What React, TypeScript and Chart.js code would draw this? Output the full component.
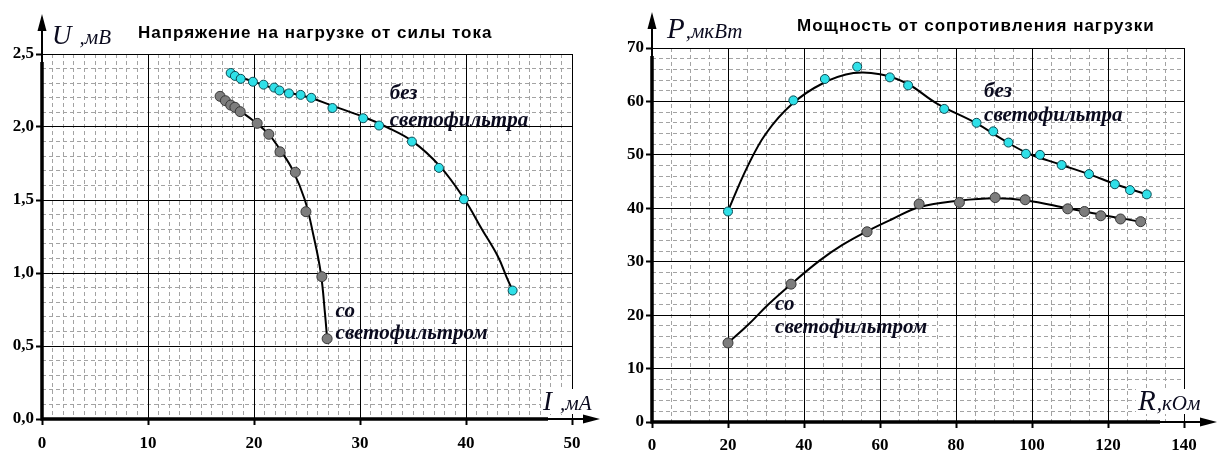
import { useEffect, useRef } from 'react'
import { Chart, registerables } from 'chart.js'
import type { Plugin } from 'chart.js'

Chart.register(...registerables)

const SERIF = '"Liberation Serif", "Times New Roman", serif'
const SANS = '"Liberation Sans", Arial, sans-serif'
const INK = '#0a0a1e'

// --- Напряжение на нагрузке от силы тока (I, мА -> U, мВ)
const I_NO_FILTER = [17.8, 18.2, 18.75, 19.9, 20.9, 21.9, 22.4, 23.3, 24.4, 25.4, 27.4, 30.3, 31.8, 34.9, 37.45, 39.8, 44.4]
const U_NO_FILTER = [2.37, 2.35, 2.33, 2.31, 2.29, 2.27, 2.25, 2.23, 2.22, 2.2, 2.13, 2.06, 2.01, 1.9, 1.72, 1.505, 0.88]
const I_FILTER = [16.8, 17.3, 17.8, 18.2, 18.7, 20.3, 21.4, 22.45, 23.9, 24.9, 26.4, 26.9]
const U_FILTER = [2.21, 2.18, 2.15, 2.135, 2.105, 2.025, 1.95, 1.83, 1.69, 1.42, 0.975, 0.55]
// trend lines
const I_NO_FILTER_FIT = [17.7, 20, 22.5, 25.3, 27.4, 30.3, 32.5, 35, 37.55, 39.85, 41.5, 43, 43.9, 44.4]
const U_NO_FILTER_FIT = [2.365, 2.31, 2.25, 2.2, 2.145, 2.07, 2.0, 1.9, 1.73, 1.505, 1.3, 1.115, 0.96, 0.88]
const I_FILTER_FIT = [16.8, 18.5, 20, 21.4, 22.5, 23.65, 24.8, 25.6, 26.3, 26.7, 26.9]
const U_FILTER_FIT = [2.21, 2.12, 2.04, 1.95, 1.84, 1.705, 1.5, 1.26, 1.0, 0.72, 0.55]

// --- Мощность от сопротивления нагрузки (R, кОм -> P, мкВт)
const R_NO_FILTER = [20, 37.2, 45.5, 54, 62.6, 67.4, 76.9, 85.4, 89.8, 93.8, 98.4, 102.1, 107.8, 115, 121.8, 125.8, 130.2]
const P_NO_FILTER = [39.4, 60.2, 64.2, 66.5, 64.5, 63.0, 58.6, 56.0, 54.4, 52.3, 50.2, 50.0, 48.1, 46.4, 44.5, 43.4, 42.6]
const R_FILTER = [20, 36.6, 56.6, 70.3, 80.9, 90.3, 98.2, 109.4, 113.8, 118.1, 123.3, 128.6]
const P_FILTER = [14.8, 25.8, 35.6, 40.8, 41.1, 42.0, 41.6, 39.9, 39.4, 38.6, 38.0, 37.5]
const R_NO_FILTER_FIT = [20, 25, 30, 37, 45, 53, 60, 67, 75, 85.4, 92, 98.6, 107.4, 115.3, 122, 130.2]
const P_NO_FILTER_FIT = [39.5, 47.6, 54.0, 59.6, 63.4, 65.3, 65.1, 63.4, 59.6, 55.9, 53.0, 50.4, 48.2, 46.3, 44.5, 42.6]
const R_FILTER_FIT = [20, 25.3, 30.6, 36.6, 44.1, 50, 56.6, 63, 70.3, 80.9, 90.3, 98.2, 109.4, 118, 128.6]
const P_FILTER_FIT = [14.8, 18.2, 22.0, 25.8, 30.2, 33.1, 35.7, 37.9, 40.2, 41.45, 41.9, 41.5, 40.0, 38.8, 37.5]

// curve captions (anchored in data units)
const U_NOTE_TEXT = ['без', 'светофильтра', 'со', 'светофильтром']
const U_NOTE_X = [32.8, 32.8, 27.7, 27.7]
const U_NOTE_Y = [2.19, 2.01, 0.7, 0.545]
const P_NOTE_TEXT = ['без', 'светофильтра', 'со', 'светофильтром']
const P_NOTE_X = [87.4, 87.4, 32.4, 32.4]
const P_NOTE_Y = [60.9, 56.3, 21.0, 16.6]

type Pt = { x: number; y: number }
const zip = (xs: number[], ys: number[]): Pt[] => xs.map((x, i) => ({ x, y: ys[i] }))

type PanelCfg = {
  title: string
  titleX: number
  titleY: number
  yName: string
  yUnit: string
  yNameX: number
  yNameY: number
  xName: string
  xUnit: string
  xNameX: number
  xNameY: number
  nameGap: number
  nameSize: number
  xMax: number
  xStep: number
  xMinor: number
  yMax: number
  yStep: number
  yMinor: number
  yFormat: (v: number) => string
  cyan: Pt[]
  cyanFit: Pt[]
  grey: Pt[]
  greyFit: Pt[]
  notesText: string[]
  notesX: number[]
  notesY: number[]
  pad: { left: number; right: number; top: number; bottom: number }
  yWidth: number
  xLabelPad: number
  arrowUp: number
  arrowRight: number
}

const arrowHead = (ctx: CanvasRenderingContext2D, x: number, y: number, dir: 'up' | 'right') => {
  ctx.beginPath()
  if (dir === 'up') {
    ctx.moveTo(x, y)
    ctx.lineTo(x - 4.5, y + 17)
    ctx.lineTo(x + 4.5, y + 17)
  } else {
    ctx.moveTo(x, y)
    ctx.lineTo(x - 17, y - 4.5)
    ctx.lineTo(x - 17, y + 4.5)
  }
  ctx.closePath()
  ctx.fill()
}

const decor: Plugin<'scatter'> = {
  id: 'decor',
  afterDraw(chart, _args, opts: any) {
    const cfg = opts.cfg as PanelCfg
    const ctx = chart.ctx as any
    const { left, right, top, bottom } = chart.chartArea
    const xs = chart.scales.x
    const ys = chart.scales.y
    ctx.save()

    // captions next to curves
    ctx.fillStyle = INK
    ctx.font = `italic bold 21px ${SERIF}`
    ctx.textAlign = 'left'
    ctx.textBaseline = 'alphabetic'
    cfg.notesText.forEach((t, i) => {
      ctx.fillText(t, xs.getPixelForValue(cfg.notesX[i]), ys.getPixelForValue(cfg.notesY[i]))
    })

    // x axis name with white backing
    ctx.font = `italic ${cfg.nameSize}px ${SERIF}`
    const xw = ctx.measureText(cfg.xName).width
    ctx.font = `italic 21px ${SERIF}`
    const uw = ctx.measureText(cfg.xUnit).width
    ctx.fillStyle = '#fff'
    ctx.fillRect(cfg.xNameX - 2, cfg.xNameY - 21, xw + cfg.nameGap + uw + 4, 25)
    ctx.fillStyle = INK
    ctx.font = `italic ${cfg.nameSize}px ${SERIF}`
    ctx.fillText(cfg.xName, cfg.xNameX, cfg.xNameY)
    ctx.font = `italic 21px ${SERIF}`
    ctx.fillText(cfg.xUnit, cfg.xNameX + xw + cfg.nameGap, cfg.xNameY)

    // y axis name
    ctx.font = `italic ${cfg.nameSize}px ${SERIF}`
    const yw = ctx.measureText(cfg.yName).width
    ctx.fillText(cfg.yName, cfg.yNameX, cfg.yNameY)
    ctx.font = `italic 21px ${SERIF}`
    ctx.fillText(cfg.yUnit, cfg.yNameX + yw + cfg.nameGap, cfg.yNameY)

    // title
    ctx.fillStyle = '#000'
    ctx.font = `bold 17px ${SANS}`
    ctx.letterSpacing = '1px'
    ctx.fillText(cfg.title, cfg.titleX, cfg.titleY)
    ctx.letterSpacing = '0px'

    // thick axes with arrows
    ctx.strokeStyle = '#000'
    ctx.fillStyle = '#000'
    ctx.lineWidth = 3.5
    ctx.beginPath()
    ctx.moveTo(left, bottom + 1.5)
    ctx.lineTo(left, top + 8)
    ctx.moveTo(left - 1.5, bottom)
    ctx.lineTo(right - 24, bottom)
    ctx.stroke()
    ctx.lineWidth = 2
    ctx.beginPath()
    ctx.moveTo(left, top + 8)
    ctx.lineTo(left, top - cfg.arrowUp + 12)
    ctx.moveTo(right - 24, bottom)
    ctx.lineTo(right + cfg.arrowRight - 12, bottom)
    ctx.stroke()
    arrowHead(ctx, left, top - cfg.arrowUp, 'up')
    arrowHead(ctx, right + cfg.arrowRight, bottom, 'right')
    ctx.restore()
  },
}

const noPad = (s: any) => {
  s.paddingLeft = 0
  s.paddingRight = 0
  s.paddingTop = 0
  s.paddingBottom = 0
}

function Panel({ cfg, left, width }: { cfg: PanelCfg; left: number; width: number }) {
  const canvasRef = useRef<HTMLCanvasElement>(null)
  const chartRef = useRef<Chart<'scatter'> | null>(null)

  useEffect(() => {
    if (!canvasRef.current) return
    if (chartRef.current) chartRef.current.destroy()

    const tickFont = { family: SERIF, weight: 'bold' as const, size: 17 }

    chartRef.current = new Chart(canvasRef.current, {
      type: 'scatter',
      data: {
        datasets: [
          {
            data: cfg.cyanFit,
            showLine: true,
            tension: 0.4,
            borderColor: '#000',
            borderWidth: 2,
            pointRadius: 0,
            order: 2,
          },
          {
            data: cfg.greyFit,
            showLine: true,
            tension: 0.4,
            borderColor: '#000',
            borderWidth: 2,
            pointRadius: 0,
            order: 2,
          },
          {
            data: cfg.cyan,
            pointRadius: 4.5,
            pointBackgroundColor: '#2fe0e8',
            pointBorderColor: '#0d4a52',
            pointBorderWidth: 1,
            order: 1,
          },
          {
            data: cfg.grey,
            pointRadius: 5,
            pointBackgroundColor: '#7d7d7d',
            pointBorderColor: '#383838',
            pointBorderWidth: 1,
            order: 1,
          },
        ],
      },
      options: {
        responsive: true,
        maintainAspectRatio: false,
        animation: false,
        events: [],
        layout: { padding: cfg.pad },
        plugins: {
          legend: { display: false },
          tooltip: { enabled: false },
          decor: { cfg },
        } as any,
        scales: {
          xMinor: {
            type: 'linear',
            position: 'bottom',
            min: 0,
            max: cfg.xMax,
            z: -1,
            ticks: { display: false, stepSize: cfg.xMinor },
            grid: { color: '#a3a3a3', lineWidth: 1, drawTicks: false },
            border: { display: false, dash: [4, 3] },
            afterFit: (s: any) => { s.height = 0; noPad(s) },
          },
          yMinor: {
            type: 'linear',
            position: 'left',
            min: 0,
            max: cfg.yMax,
            z: -1,
            ticks: { display: false, stepSize: cfg.yMinor },
            grid: { color: '#a3a3a3', lineWidth: 1, drawTicks: false },
            border: { display: false, dash: [4, 3] },
            afterFit: (s: any) => { s.width = 0; noPad(s) },
          },
          x: {
            type: 'linear',
            position: 'bottom',
            min: 0,
            max: cfg.xMax,
            ticks: {
              stepSize: cfg.xStep,
              color: '#000',
              font: tickFont,
              padding: cfg.xLabelPad,
              maxRotation: 0,
              autoSkip: false,
              callback: (v) => String(v),
            },
            grid: { color: '#000', lineWidth: 1, tickLength: 6, tickColor: '#000', tickWidth: 2 },
            border: { display: false },
            afterFit: (s: any) => { s.height = 30; noPad(s) },
          },
          y: {
            type: 'linear',
            position: 'left',
            min: 0,
            max: cfg.yMax,
            ticks: {
              stepSize: cfg.yStep,
              color: '#000',
              font: tickFont,
              padding: 2,
              autoSkip: false,
              callback: (v) => cfg.yFormat(Number(v)),
            },
            grid: { color: '#000', lineWidth: 1, tickLength: 6, tickColor: '#000', tickWidth: 2 },
            border: { display: false },
            afterFit: (s: any) => { s.width = cfg.yWidth; noPad(s) },
          },
        },
      },
      plugins: [decor],
    })

    return () => { chartRef.current?.destroy() }
  }, [cfg])

  return (
    <div style={{ position: 'absolute', left, top: 0, width, height: 459 }}>
      <canvas ref={canvasRef} />
    </div>
  )
}

const voltageCfg: PanelCfg = {
  title: 'Напряжение на нагрузке от силы тока',
  titleX: 138,
  titleY: 38,
  yName: 'U',
  yUnit: ',мВ',
  yNameX: 52,
  yNameY: 44,
  xName: 'I',
  xUnit: ',мА',
  xNameX: 543,
  xNameY: 410,
  nameGap: 8,
  nameSize: 27,
  xMax: 50,
  xStep: 10,
  xMinor: 1,
  yMax: 2.5,
  yStep: 0.5,
  yMinor: 0.1,
  yFormat: (v) => v.toFixed(1).replace('.', ','),
  cyan: zip(I_NO_FILTER, U_NO_FILTER),
  cyanFit: zip(I_NO_FILTER_FIT, U_NO_FILTER_FIT),
  grey: zip(I_FILTER, U_FILTER),
  greyFit: zip(I_FILTER_FIT, U_FILTER_FIT),
  notesText: U_NOTE_TEXT,
  notesX: U_NOTE_X,
  notesY: U_NOTE_Y,
  pad: { left: 2, right: 40, top: 54, bottom: 10 },
  yWidth: 40,
  xLabelPad: 8,
  arrowUp: 40,
  arrowRight: 28,
}

const powerCfg: PanelCfg = {
  title: 'Мощность от сопротивления нагрузки',
  titleX: 185,
  titleY: 31,
  yName: 'P',
  yUnit: ',мкВт',
  yNameX: 55,
  yNameY: 38,
  xName: 'R',
  xUnit: ',кОм',
  xNameX: 526,
  xNameY: 410,
  nameGap: 1,
  nameSize: 29,
  xMax: 140,
  xStep: 20,
  xMinor: 5,
  yMax: 70,
  yStep: 10,
  yMinor: 2,
  yFormat: (v) => String(v),
  cyan: zip(R_NO_FILTER, P_NO_FILTER),
  cyanFit: zip(R_NO_FILTER_FIT, P_NO_FILTER_FIT),
  grey: zip(R_FILTER, P_FILTER),
  greyFit: zip(R_FILTER_FIT, P_FILTER_FIT),
  notesText: P_NOTE_TEXT,
  notesX: P_NOTE_X,
  notesY: P_NOTE_Y,
  pad: { left: 2, right: 45, top: 48, bottom: 7 },
  yWidth: 38,
  xLabelPad: 7,
  arrowUp: 36,
  arrowRight: 33,
}

export default function App() {
  return (
    <div style={{ position: 'absolute', left: 0, top: 0, width: 1229, height: 459, background: '#fff' }}>
      <Panel cfg={voltageCfg} left={0} width={612} />
      <Panel cfg={powerCfg} left={612} width={617} />
    </div>
  )
}
